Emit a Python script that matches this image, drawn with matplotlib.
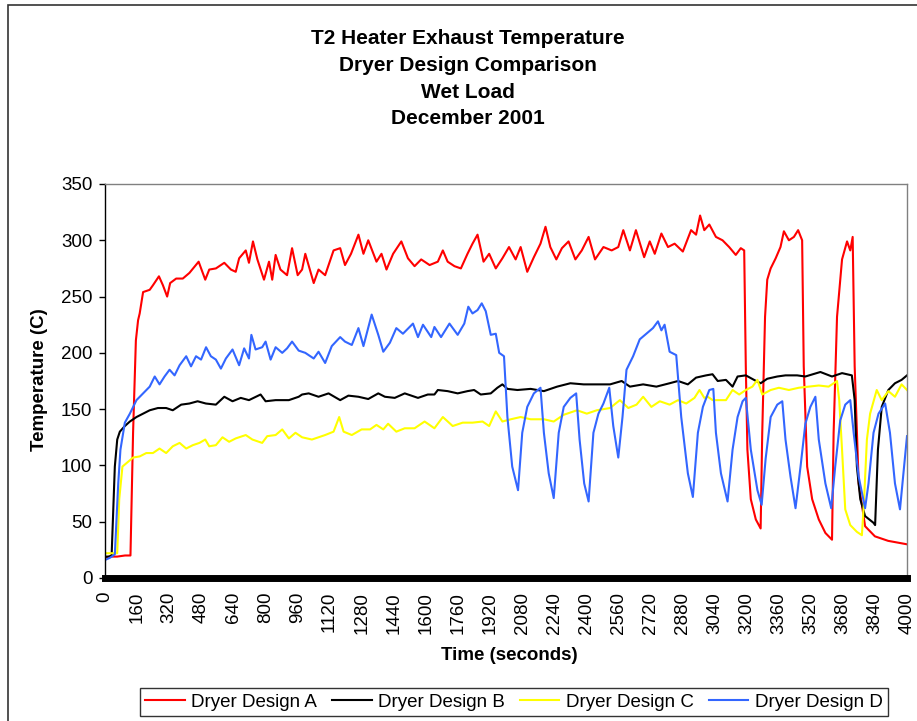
import matplotlib
matplotlib.use("Agg")
import matplotlib.pyplot as plt
from matplotlib.patches import Rectangle
import numpy as np

plt.rcParams['font.family'] = ['Liberation Sans', 'DejaVu Sans']

# time (s) and temperature (C)
time_a = [0, 20, 60, 100, 127, 140, 154, 165, 173, 190, 223, 239, 269, 289, 310, 325, 355, 388, 421,
          467, 500, 520, 553, 595, 628, 652, 669, 702, 718, 738, 760, 793, 818, 834, 851, 875, 908,
          933, 961, 983, 999, 1041, 1065, 1098, 1140, 1173, 1197, 1227, 1264, 1289, 1313, 1354,
          1379, 1404, 1437, 1478, 1511, 1544, 1577, 1619, 1660, 1685, 1709, 1743, 1775, 1808, 1833,
          1858, 1888, 1916, 1949, 1982, 2015, 2048, 2073, 2106, 2139, 2172, 2197, 2221, 2251, 2279,
          2312, 2346, 2378, 2412, 2444, 2486, 2527, 2560, 2585, 2618, 2648, 2689, 2717, 2742, 2775,
          2808, 2841, 2882, 2923, 2948, 2968, 2989, 3014, 3047, 3080, 3113, 3146, 3171, 3188, 3196,
          3204, 3221, 3246, 3270, 3278, 3292, 3303, 3320, 3345, 3369, 3386, 3411, 3436, 3457, 3477,
          3485, 3502, 3527, 3560, 3593, 3626, 3634, 3651, 3676, 3701, 3717, 3729, 3739, 3759, 3791,
          3840, 3906, 3998]
temp_a = [18, 19, 19, 20, 20, 129, 211, 229, 235, 254, 256, 260, 268, 260, 250, 262, 266, 266, 271,
          281, 265, 274, 275, 280, 274, 272, 284, 291, 280, 299, 283, 265, 281, 265, 287, 274, 269,
          293, 269, 274, 288, 262, 274, 269, 291, 293, 278, 288, 305, 288, 300, 281,
          288, 274, 288, 299, 284, 277, 283, 278, 281, 291, 281, 277, 275, 288, 297,
          305, 281, 288, 275, 284, 294, 283, 294, 272, 285, 297, 312, 294, 283, 293,
          299, 283, 291, 303, 283, 294, 291, 294, 309, 291, 309, 285, 299, 288, 306,
          294, 297, 290, 309, 305, 322, 309, 314, 303, 300, 294, 287, 293, 291, 188,
          114, 70, 52, 44, 129, 232, 265, 275, 284, 294, 308, 300, 303, 309, 300,
          188, 99, 70, 52, 40, 34, 129, 232, 283, 299, 291, 303, 188, 84, 46,
          37, 33, 30]

time_b = [0, 20, 33, 49, 61, 74, 99, 124, 157, 190, 223, 264, 305, 338, 380, 421, 462, 503, 553, 595,
          636, 677, 718, 776, 801, 851, 917, 966, 983, 1016, 1065, 1115, 1173, 1214, 1264, 1313, 1363,
          1396, 1445, 1495, 1561, 1610, 1643, 1660, 1709, 1759, 1808, 1841, 1874, 1924, 1957, 1982,
          2007, 2057, 2123, 2189, 2255, 2321, 2387, 2453, 2519, 2577, 2618, 2684, 2750, 2816, 2858,
          2907, 2948, 2998, 3030, 3056, 3097, 3130, 3155, 3196, 3237, 3270, 3303, 3353, 3394, 3452,
          3493, 3568, 3626, 3676, 3725, 3739, 3750, 3767, 3791, 3833, 3841, 3855, 3874, 3907, 3940,
          3973, 4000]
temp_b = [19, 19, 20, 99, 123, 130, 135, 139, 143, 146, 149, 151, 151, 149, 154, 155, 157, 155, 154, 161,
          157, 160, 158, 163, 157, 158, 158, 161, 163, 164, 161, 164, 158, 162, 161, 159, 164,
          161, 160, 164, 160, 163, 163, 167, 166, 164, 166, 167, 163, 164, 169, 172,
          168, 167, 168, 166, 170, 173, 172, 172, 172, 175, 170, 172, 170, 173, 175,
          172, 178, 180, 181, 175, 176, 170, 179, 180, 176, 173, 177, 179, 180, 180,
          179, 183, 179, 182, 180, 158, 99, 70, 55, 49, 47, 114, 152, 167, 173,
          176, 180]

time_c = [0, 30, 61, 71, 87, 107, 140, 173, 206, 239, 272, 305, 338, 372, 405, 438, 471, 500, 520, 553,
          586, 619, 652, 702, 735, 784, 809, 851, 884, 917, 950, 983, 1032, 1098, 1140, 1168, 1190,
          1231, 1280, 1322, 1354, 1388, 1412, 1453, 1495, 1544, 1594, 1643, 1685, 1734, 1784, 1833,
          1883, 1916, 1949, 1982, 2024, 2073, 2123, 2189, 2238, 2288, 2354, 2403, 2453, 2519, 2568,
          2610, 2651, 2684, 2725, 2767, 2816, 2858, 2899, 2940, 2965, 2989, 3006, 3031, 3064, 3097,
          3130, 3163, 3196, 3229, 3254, 3278, 3320, 3361, 3411, 3460, 3510, 3560, 3609, 3651, 3662,
          3676, 3692, 3717, 3750, 3775, 3786, 3800, 3816, 3849, 3874, 3907, 3940, 3973, 4000]
temp_c = [22, 22, 22, 70, 99, 102, 107, 108, 111, 111, 115, 111, 117, 120, 115, 118, 120, 123, 117, 118,
          125, 121, 124, 127, 123, 120, 126, 127, 132, 124, 129, 125, 123, 127, 130, 143, 130,
          127, 132, 132, 136, 132, 137, 130, 133, 133, 139, 133, 143, 135, 138, 138,
          139, 135, 148, 139, 141, 143, 141, 141, 139, 145, 149, 146, 149, 151, 158,
          151, 154, 161, 152, 157, 154, 158, 155, 160, 167, 160, 161, 158, 158, 158,
          167, 163, 167, 170, 176, 163, 167, 169, 167, 169, 170, 171, 170, 175, 158,
          114, 61, 47, 41, 38, 70, 123, 146, 167, 158, 166, 161, 172, 167]

time_d = [0, 25, 49, 66, 77, 99, 124, 157, 190, 223, 248, 272, 297, 322, 347, 372, 405, 429, 454, 479,
          504, 528, 553, 578, 603, 636, 669, 694, 718, 730, 751, 784, 801, 826, 851, 884, 908, 933,
          966, 999, 1041, 1065, 1098, 1131, 1173, 1197, 1231, 1264, 1289, 1330, 1363, 1388, 1421,
          1453, 1486, 1536, 1561, 1586, 1627, 1643, 1676, 1718, 1759, 1792, 1812, 1833, 1858, 1879,
          1899, 1924, 1949, 1966, 1990, 2007, 2031, 2060, 2081, 2106, 2139, 2172, 2189, 2213, 2238,
          2263, 2288, 2321, 2350, 2367, 2390, 2412, 2436, 2461, 2486, 2515, 2535, 2560, 2581, 2601,
          2634, 2667, 2700, 2733, 2758, 2775, 2791, 2816, 2849, 2874, 2907, 2932, 2957, 2982, 3014,
          3034, 3047, 3072, 3105, 3130, 3155, 3180, 3196, 3221, 3254, 3275, 3295, 3320, 3353, 3378,
          3394, 3419, 3444, 3469, 3493, 3518, 3543, 3560, 3593, 3622, 3642, 3667, 3692, 3717, 3734,
          3759, 3791, 3808, 3833, 3858, 3891, 3915, 3940, 3965, 3990, 4000]
temp_d = [16, 18, 21, 84, 114, 138, 146, 158, 164, 170, 179, 172, 179, 185, 180, 189, 197, 188, 197, 194,
          205, 197, 194, 186, 195, 203, 189, 204, 195, 216, 203, 205, 210, 194, 205, 200, 204, 210,
          202, 200, 195, 201, 191, 206, 214, 210, 207, 222, 206, 234, 216, 201, 209,
          222, 217, 226, 214, 225, 214, 223, 214, 226, 216, 226, 241, 235, 238, 244,
          237, 216, 217, 200, 197, 143, 99, 78, 129, 152, 164, 169, 129, 93, 71,
          129, 152, 160, 164, 123, 84, 68, 129, 146, 155, 169, 135, 107, 143, 185,
          197, 212, 217, 222, 228, 220, 225, 201, 198, 143, 93, 72, 129, 152, 167,
          168, 129, 93, 68, 114, 143, 157, 160, 114, 78, 65, 106, 143, 154, 157,
          123, 90, 62, 99, 137, 152, 161, 123, 84, 62, 99, 140, 154, 158, 129,
          90, 62, 84, 129, 146, 155, 129, 84, 61, 108, 126]

series = [("Dryer Design A", time_a, temp_a, "#ff0000"),
          ("Dryer Design B", time_b, temp_b, "#000000"),
          ("Dryer Design C", time_c, temp_c, "#ffff00"),
          ("Dryer Design D", time_d, temp_d, "#3366ff")]

title_lines = ["T2 Heater Exhaust Temperature", "Dryer Design Comparison", "Wet Load", "December 2001"]
x_ticks = np.arange(0, 4001, 160)
y_ticks = np.arange(0, 351, 50)

W, H = 917, 721
fig = plt.figure(figsize=(W / 100, H / 100), dpi=100)
ax = fig.add_axes([105 / W, 1 - 578 / H, (907 - 105) / W, (578 - 184) / H])

for name, t, v, c in series:
    ax.plot(t, v, color=c, linewidth=1.5, label=name)

ax.set_xlim(0, 4000)
ax.set_ylim(0, 350)
ax.set_xticks(x_ticks)
ax.set_xticklabels([str(x) for x in x_ticks], rotation=90, fontsize=13.5)
ax.set_yticks(y_ticks)
ax.set_yticklabels([str(y) for y in y_ticks], fontsize=13.5)
ax.tick_params(axis='x', length=0, pad=10)
ax.tick_params(axis='y', length=4, width=1, direction='out', pad=5)

for s in ('top', 'right'):
    ax.spines[s].set_color('#808080')
    ax.spines[s].set_linewidth(1)
ax.spines['left'].set_color('black')
ax.spines['left'].set_linewidth(1)
ax.spines['bottom'].set_color('black')
ax.spines['bottom'].set_linewidth(5)

fig.text(468 / W, 1 - 29 / H, "\n".join(title_lines), ha='center', va='top',
         fontsize=15, fontweight='bold', linespacing=1.52)
fig.text(40 / W, 1 - 380 / H, "Temperature (C)", rotation=90, ha='center', va='center',
         fontsize=13.5, fontweight='bold')
fig.text(509 / W, 1 - 655 / H, "Time (seconds)", ha='center', va='center',
         fontsize=13.5, fontweight='bold')

leg = fig.legend(loc='center', bbox_to_anchor=(514 / W, 1 - 702 / H), ncol=4, fontsize=13.5,
                 frameon=True, fancybox=False, handlelength=2.1, handletextpad=0.35,
                 columnspacing=0.8, borderpad=0.3)
leg.get_frame().set_edgecolor('black')
leg.get_frame().set_linewidth(1)

fig.patches.append(Rectangle((8 / W, -0.1), 1.2, (H - 5) / H + 0.1, transform=fig.transFigure,
                             fill=False, edgecolor='#333333', linewidth=1.2))

fig.savefig('out.png', dpi=100)
